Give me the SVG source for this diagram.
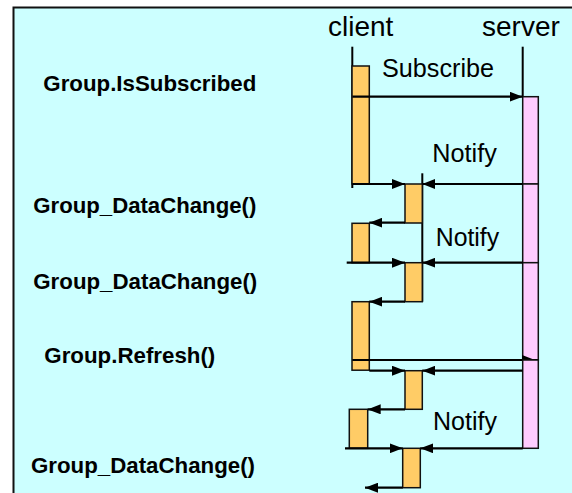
<svg xmlns="http://www.w3.org/2000/svg" width="572" height="493" viewBox="0 0 572 493">
<defs>
<style>
.bg{fill:#CCFFFF;stroke:#111;stroke-width:2}
.cbar{fill:#FFCC66;stroke:#111;stroke-width:1.5}
.sbar{fill:#FFCCFF;stroke:#111;stroke-width:1.5}
.life{stroke:#000;stroke-width:2;fill:none}
.msg{stroke:#000;stroke-width:2.2;fill:none;marker-end:url(#ah)}
.hdr{font-family:"Liberation Sans",Arial,sans-serif;font-size:28px;fill:#000}
.lbl{font-family:"Liberation Sans",Arial,sans-serif;font-size:25px;fill:#000}
.call{font-family:"Liberation Sans",Arial,sans-serif;font-size:22px;font-weight:bold;fill:#000}
</style>
<marker id="ah" viewBox="0 0 13 10" refX="13" refY="5" markerWidth="13" markerHeight="10" markerUnits="userSpaceOnUse" orient="auto">
<path d="M0,0 L13,5 L0,10 z" fill="#000"/>
</marker>
</defs>
<rect class="bg" x="13.5" y="7.5" width="570" height="500"/>

<g id="labels">
<text class="call" x="43.3" y="90.7" textLength="213" lengthAdjust="spacingAndGlyphs">Group.IsSubscribed</text>
<text class="call" x="33.3" y="213.3" textLength="223" lengthAdjust="spacingAndGlyphs">Group_DataChange()</text>
<text class="call" x="33.3" y="289.3" textLength="224" lengthAdjust="spacingAndGlyphs">Group_DataChange()</text>
<text class="call" x="44.3" y="362.7" textLength="171" lengthAdjust="spacingAndGlyphs">Group.Refresh()</text>
<text class="call" x="31" y="473.3" textLength="224" lengthAdjust="spacingAndGlyphs">Group_DataChange()</text>
</g>

<g id="client">
<text class="hdr" x="328" y="36">client</text>
<line class="life" x1="352.3" y1="46.7" x2="352.3" y2="188"/>
<rect class="cbar" x="352" y="66" width="17.3" height="118"/>
<rect class="cbar" x="352" y="223.3" width="17.3" height="39.4"/>
<rect class="cbar" x="352" y="301.7" width="17.3" height="68.5"/>
<rect class="cbar" x="349.3" y="409.3" width="18.4" height="39"/>
</g>

<g id="callback">
<line class="life" x1="422.3" y1="173.3" x2="422.3" y2="301.7"/>
<rect class="cbar" x="405" y="184" width="17.3" height="39"/>
<rect class="cbar" x="405" y="262.7" width="17.3" height="39"/>
<rect class="cbar" x="405" y="370.7" width="17.3" height="38.6"/>
<rect class="cbar" x="402.7" y="448.3" width="17.6" height="39.4"/>
</g>

<g id="server">
<text class="hdr" x="482" y="36">server</text>
<line class="life" x1="522.7" y1="46.7" x2="522.7" y2="96.7"/>
<rect class="sbar" x="522.7" y="96.7" width="15.6" height="87.3"/>
<rect class="sbar" x="522.7" y="184" width="15.6" height="78.7"/>
<rect class="sbar" x="522.7" y="262.7" width="15.6" height="97.3"/>
</g>

<g id="connectors">
<line class="msg" x1="352.3" y1="96.7" x2="522.7" y2="96.7"/>
<text class="lbl" x="382" y="77.3" textLength="112" lengthAdjust="spacingAndGlyphs">Subscribe</text>

<line class="msg" x1="352.3" y1="184" x2="405" y2="184"/>
<line class="msg" x1="522.7" y1="184" x2="422.3" y2="184"/>
<text class="lbl" x="432.3" y="162" textLength="64.5" lengthAdjust="spacingAndGlyphs">Notify</text>
<line class="msg" x1="405" y1="222.7" x2="369.3" y2="222.7"/>

<line class="msg" x1="346.7" y1="262.7" x2="405" y2="262.7"/>
<line class="msg" x1="522.7" y1="262.7" x2="422.3" y2="262.7"/>
<text class="lbl" x="435.7" y="246" textLength="63.5" lengthAdjust="spacingAndGlyphs">Notify</text>
<line class="msg" x1="405" y1="301.7" x2="369.3" y2="301.7"/>

<line class="msg" x1="352.3" y1="360" x2="535" y2="360"/>
<line style="stroke:#000;stroke-width:2" x1="535" y1="360" x2="538.3" y2="360"/>
</g>

<g id="server-lower">
<rect class="sbar" x="522.7" y="360" width="15.6" height="88.3"/>
</g>

<g id="connectors-lower">
<line class="msg" x1="369.3" y1="370.7" x2="405" y2="370.7"/>
<line class="msg" x1="522.7" y1="370.7" x2="422.3" y2="370.7"/>
<line class="msg" x1="405" y1="409.3" x2="367.7" y2="409.3"/>

<text class="lbl" x="433" y="430" textLength="64" lengthAdjust="spacingAndGlyphs">Notify</text>
<line class="msg" x1="345" y1="448.3" x2="402.7" y2="448.3"/>
<line class="msg" x1="522.7" y1="448.3" x2="420.3" y2="448.3"/>
<line class="msg" x1="402.7" y1="487.7" x2="365" y2="487.7"/>
</g>
</svg>
